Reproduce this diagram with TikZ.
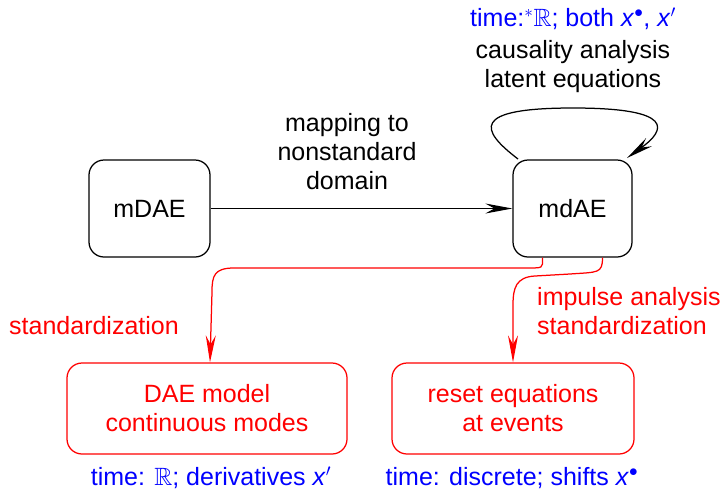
\documentclass[tikz,border=0pt]{standalone}
\usepackage{amssymb}
\usepackage{fontspec}
\setmainfont{Liberation Sans}
\usetikzlibrary{arrows.meta}
\definecolor{pblue}{RGB}{0,0,255}
\definecolor{pred}{RGB}{255,0,0}
\begin{document}
\begin{tikzpicture}[x=1pt,y=-1pt,
  txt/.style={font=\fontsize{25}{29}\selectfont, align=center, inner sep=0pt},
  model/.style={draw, rounded corners=15, line width=1.25, inner sep=0pt, txt},
  flow/.style={line width=1.25, -{Stealth[length=27,width=10,inset=9]}},
  redflow/.style={flow, pred},
]
\useasboundingbox (0,0) rectangle (722,491);

% models
\node[model, minimum width=121, minimum height=97] (mdae) at (149.5,208.5) {mDAE};
\node[model, minimum width=119, minimum height=97] (mdAE) at (572.5,208.5) {mdAE};
\node[model, pred, minimum width=280, minimum height=91] (dae) at (207,408.5)
  {DAE model\\continuous modes};
\node[model, pred, minimum width=242, minimum height=91] (reset) at (513,408.5)
  {reset equations\\at events};

% mapping arrow
\draw[flow] (mdae.east) -- (mdAE.west);
\node[txt] (maplbl) at (347,152) {mapping to\\nonstandard\\domain};

% self loop on the nonstandard model
\coordinate (loopA) at (518,159);
\coordinate (loopB) at (627,158);
\draw[flow] (loopA) .. controls (480,130) and (470,108) .. (573,108)
  .. controls (676,108) and (666,130) .. (loopB);
\node[txt, pblue] (toptime) at (573,19) {time:${}^{*}\mathbb{R}$; both \textit{x}$^{\bullet}$, \textit{x}$'$};
\node[txt] (toplbl) at (573,67) {causality analysis\\latent equations};

% standardization arrows
\coordinate (sA) at ([xshift=-30]mdAE.south);
\coordinate (sB) at ([xshift=30]mdAE.south);
\coordinate (tA) at ([xshift=3]dae.north);
\draw[redflow] (sA) .. controls ++(0,11) and (545,268) .. (522,268)
  -- (234,268) .. controls (214,268) and (212,276) .. (212,292) -- (tA);
\draw[redflow] (sB) .. controls ++(0,16) and (598,272) .. (570,274)
  -- (535,276) .. controls (516,277) and (513,288) .. (513,305) -- (reset.north);
\node[txt, pred] (stdlbl) at (94,326) {standardization};
\node[txt, pred, align=left, anchor=west] (implbl) at (537,311)
  {impulse analysis\\standardization};

% time domains
\node[txt, pblue] (daetime) at (211,478) {time: $\mathbb{R}$; derivatives \textit{x}$'$};
\node[txt, pblue] (resettime) at (512,478) {time: discrete; shifts \textit{x}$^{\bullet}$};
\end{tikzpicture}
\end{document}
